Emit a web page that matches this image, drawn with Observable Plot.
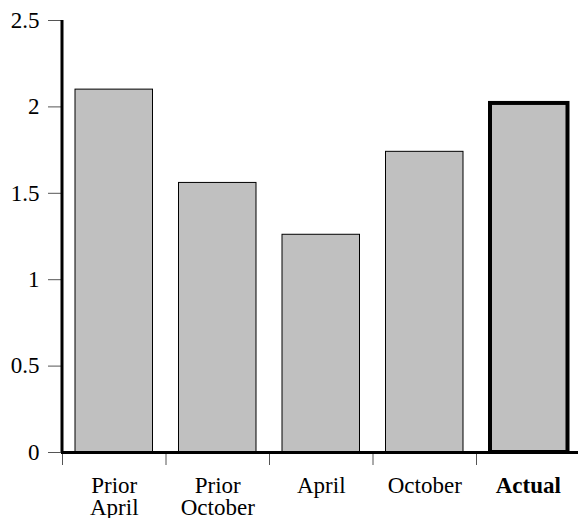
<!DOCTYPE html>
<html>
<head>
<meta charset="utf-8">
<script src="https://cdn.jsdelivr.net/npm/d3@7"></script>
<script src="https://cdn.jsdelivr.net/npm/@observablehq/plot@0.6"></script>
<style>
  html, body { margin: 0; padding: 0; background: #fff; }
  #chart svg { display: block; }
</style>
</head>
<body>
<div id="chart"></div>
<script>
const categories = ["Prior\nApril", "Prior\nOctober", "April", "October", "Actual"];
const values = [2.1, 1.56, 1.26, 1.74, 2.02];
const highlighted = ["Actual"];
const yTicks = [0, 0.5, 1, 1.5, 2, 2.5];

const rows = categories.map((c, i) => ({category: c, i, value: values[i], bold: highlighted.includes(c)}));
const normal = rows.filter(d => !d.bold);
const bold = rows.filter(d => d.bold);

const font = "'Liberation Serif', 'Times New Roman', serif";

const chart = Plot.plot({
  width: 578,
  height: 518,
  marginTop: 20,
  marginBottom: 66,
  marginLeft: 61,
  marginRight: 0,
  style: {fontFamily: font, fontSize: "23px", background: "#fff", color: "#000"},
  x: {domain: [0, categories.length], range: [62, 579.5], label: null},
  y: {domain: [0, 2.5], label: null},
  marks: [
    Plot.rectY(normal, {x1: "i", x2: d => d.i + 1, y1: 0, y2: "value", insetLeft: 13, insetRight: 13, fill: "#c0c0c0", stroke: "#000", strokeWidth: 1}),
    Plot.rectY(bold, {x1: "i", x2: d => d.i + 1, y1: 0, y2: "value", insetLeft: 14, insetRight: 12, fill: "#c0c0c0", stroke: "#000", strokeWidth: 4}),
    Plot.axisY({ticks: yTicks, tickSize: 13, tickPadding: 9, tickFormat: d => String(d), stroke: "#555", fontSize: 23, fontFamily: font, label: null}),
    Plot.axisX({ticks: d3.range(categories.length), tickSize: 13, tickFormat: () => "", stroke: "#555", label: null}),
    Plot.ruleY([0], {stroke: "#000", strokeWidth: 3}),
    Plot.ruleX([0], {y1: 0, y2: 2.5, stroke: "#000", strokeWidth: 3, dx: -0.5}),
    Plot.text(normal, {x: d => d.i + 0.5, y: 0, text: "category", dy: 24, lineAnchor: "top", lineHeight: 0.98, fontSize: 23, fontFamily: font, fill: "#000"}),
    Plot.text(bold, {x: d => d.i + 0.5, y: 0, text: "category", dy: 24, lineAnchor: "top", lineHeight: 0.98, fontSize: 23, fontWeight: "bold", fontFamily: font, fill: "#000"})
  ]
});
document.getElementById("chart").append(chart);
</script>
</body>
</html>
